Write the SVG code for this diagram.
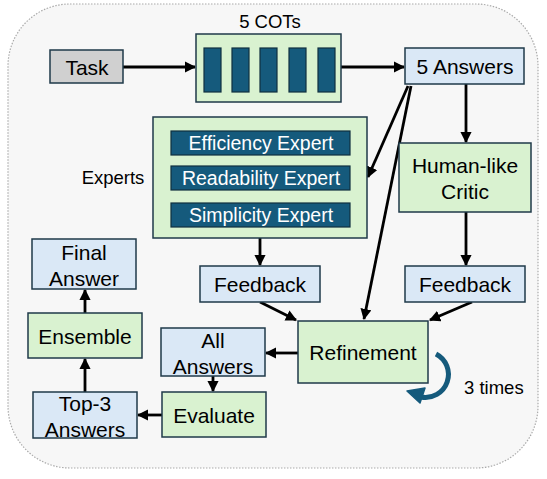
<svg xmlns="http://www.w3.org/2000/svg" width="547" height="479" viewBox="0 0 547 479">
<style>
text{font-family:"Liberation Sans",Arial,sans-serif;fill:#000}
.g{fill:#d9f2d0;stroke:#1f3a4a;stroke-width:1.5}
.b{fill:#dae8f6;stroke:#1f3a4a;stroke-width:1.5}
.d{fill:#155a7c;stroke:#0f2f40;stroke-width:1.2}
.c{stroke:#000;stroke-width:2.8;fill:none;marker-end:url(#ah)}
.t{font-size:21px;text-anchor:middle}
.w{font-size:19.5px;text-anchor:middle;fill:#fff}
.s{font-size:18.5px}
</style>
<defs>
<marker id="ah" viewBox="0 0 10 10" refX="9" refY="5" markerWidth="4" markerHeight="4" orient="auto" markerUnits="strokeWidth">
<path d="M0,0 L10,5 L0,10 z" fill="#000"/>
</marker>
</defs>
<rect x="8" y="4" width="530" height="464" rx="62" ry="62" fill="#f7f7f7" stroke="#aaa" stroke-width="1.2" stroke-dasharray="1.5 1.5"/>

<g id="connectors">
<line class="c" x1="123" y1="67" x2="195" y2="67"/>
<line class="c" x1="341" y1="67" x2="404" y2="67"/>
<line class="c" x1="466" y1="84" x2="466" y2="142"/>
<line class="c" x1="408" y1="86" x2="368" y2="177"/>
<line class="c" x1="411" y1="86" x2="364" y2="319"/>
<line class="c" x1="260" y1="238" x2="260" y2="265"/>
<line class="c" x1="466" y1="212" x2="466" y2="265"/>
<line class="c" x1="260" y1="302" x2="296" y2="320"/>
<line class="c" x1="472" y1="302" x2="430" y2="320"/>
<line class="c" x1="298" y1="353" x2="266" y2="353"/>
<line class="c" x1="213" y1="376" x2="213" y2="391"/>
<line class="c" x1="162" y1="415" x2="138" y2="415"/>
<line class="c" x1="85" y1="392" x2="85" y2="359"/>
<line class="c" x1="85" y1="313" x2="85" y2="290"/>
<path d="M436,354 A23,23 0 0 1 421,397" fill="none" stroke="#155a7c" stroke-width="5"/>
<path d="M407,391 L425,388 L420,403 z" fill="#155a7c" stroke="#155a7c" stroke-width="1.5" stroke-linejoin="round"/>
</g>

<text class="s" x="270" y="27.5" text-anchor="middle">5 COTs</text>
<text class="s" x="113" y="184" text-anchor="middle">Experts</text>
<text class="s" x="464" y="394">3 times</text>

<g id="task"><rect x="50" y="50" width="73" height="33" fill="#d0d0d0" stroke="#1f3a4a" stroke-width="1.5"/><text class="t" x="87" y="75">Task</text></g>

<g id="cots">
<rect class="g" x="196" y="34" width="145" height="68"/>
<rect class="d" x="204" y="48" width="17" height="44"/>
<rect class="d" x="232" y="48" width="17" height="44"/>
<rect class="d" x="260" y="48" width="17" height="44"/>
<rect class="d" x="289" y="48" width="17" height="44"/>
<rect class="d" x="318" y="48" width="17" height="44"/>
</g>

<g id="answers5"><rect class="b" x="405" y="48" width="119" height="36"/><text class="t" x="465" y="74">5 Answers</text></g>

<g id="experts">
<rect class="g" x="153" y="117" width="214" height="121"/>
<rect class="d" x="171" y="131" width="179" height="24"/><text class="w" x="261" y="150">Efficiency Expert</text>
<rect class="d" x="171" y="166" width="179" height="24"/><text class="w" x="261" y="185">Readability Expert</text>
<rect class="d" x="171" y="203" width="179" height="24"/><text class="w" x="261" y="222">Simplicity Expert</text>
</g>

<g id="critic"><rect class="g" x="399" y="143" width="132" height="69"/><text class="t" x="465" y="173">Human-like</text><text class="t" x="465" y="199">Critic</text></g>

<g id="feedback1"><rect class="b" x="200" y="266" width="120" height="36"/><text class="t" x="260" y="292">Feedback</text></g>
<g id="feedback2"><rect class="b" x="405" y="266" width="120" height="36"/><text class="t" x="465" y="292">Feedback</text></g>

<g id="refinement"><rect class="g" x="298" y="321" width="130" height="62"/><text class="t" x="363" y="360">Refinement</text></g>

<g id="allanswers"><rect class="b" x="161" y="328" width="104" height="48"/><text class="t" x="213" y="348">All</text><text class="t" x="213" y="374">Answers</text></g>

<g id="evaluate"><rect class="g" x="162" y="392" width="104" height="45"/><text class="t" x="214" y="423">Evaluate</text></g>

<g id="top3"><rect class="b" x="33" y="392" width="104" height="46"/><text class="t" x="85" y="411">Top-3</text><text class="t" x="85" y="437">Answers</text></g>

<g id="ensemble"><rect class="g" x="28" y="313" width="114" height="45"/><text class="t" x="85" y="344">Ensemble</text></g>

<g id="final"><rect class="b" x="32" y="239" width="104" height="50"/><text class="t" x="84" y="260">Final</text><text class="t" x="84" y="286">Answer</text></g>
</svg>
